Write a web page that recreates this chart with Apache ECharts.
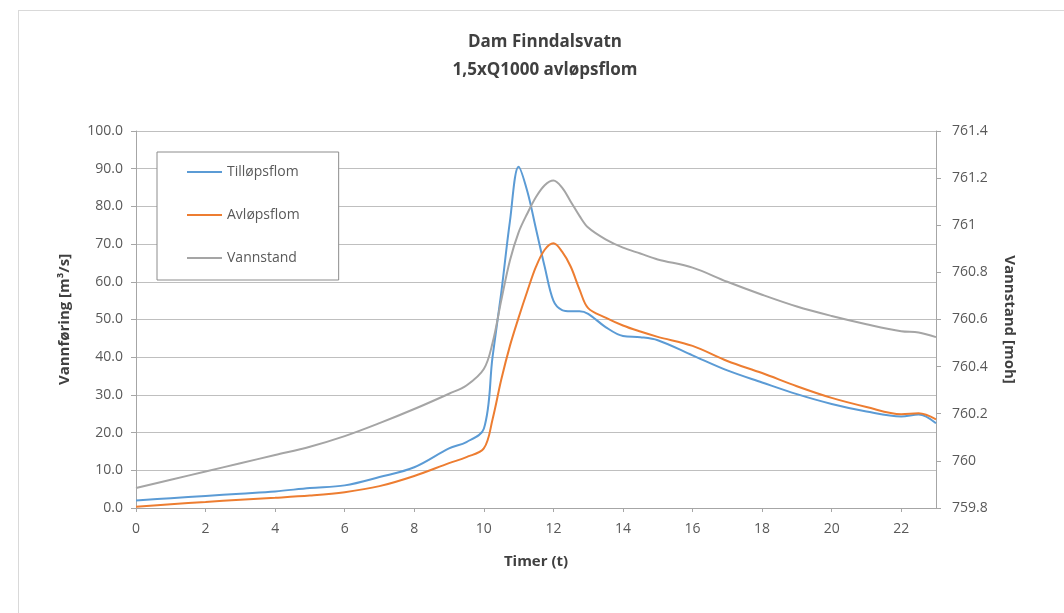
<!DOCTYPE html>
<html>
<head>
<meta charset="utf-8">
<script src="https://cdn.jsdelivr.net/npm/echarts@6/dist/echarts.min.js"></script>
<style>
  html, body { margin: 0; padding: 0; background: #fff; }
  .frame {
    position: absolute; left: 18px; top: 10px; width: 1060px; height: 620px;
    border: 1px solid #d9d9d9; box-sizing: border-box;
  }
  #chart { position: absolute; left: 0; top: 0; width: 1064px; height: 613px; }
</style>
</head>
<body>
<div class="frame"></div>
<div id="chart"></div>
<script>
  // timer (t)
  const hours = [0, 1, 2, 3, 4, 5, 6, 7, 8, 9, 9.5, 10, 10.25, 10.5, 10.75, 11, 11.25, 11.5, 11.75,
    12, 12.25, 12.5, 12.75, 13, 13.5, 14, 14.5, 15, 16, 17, 18, 19, 20, 21, 22, 22.5, 23];

  // Tilløpsflom (m3/s)
  const tilop = [2.0, 2.6, 3.2, 3.8, 4.4, 5.3, 6.0, 8.2, 10.8, 15.8, 17.5, 21, 40, 57, 76, 90.5, 84, 74, 64,
    55, 52.5, 52.2, 52.2, 51.5, 48, 45.6, 45.3, 44.5, 40.5, 36.5, 33.3, 30.2, 27.6, 25.6, 24.3, 24.8, 22.5];

  // Avløpsflom (m3/s)
  const avlop = [0.3, 1.0, 1.6, 2.2, 2.7, 3.3, 4.2, 5.8, 8.5, 11.9, 13.5, 15.8, 23.5, 34, 43, 50.5, 57.5, 64, 68.5,
    70.2, 68, 64, 58, 53, 50.5, 48.4, 46.8, 45.4, 43, 39, 35.8, 32.3, 29.2, 26.8, 24.9, 25.1, 23.5];

  // Vannstand (moh)
  const vannstand = [759.885, 759.92, 759.955, 759.99, 760.025, 760.06, 760.105, 760.16, 760.22, 760.285, 760.32,
    760.39, 760.5, 760.68, 760.85, 760.97, 761.05, 761.12, 761.17, 761.19, 761.16, 761.1, 761.04, 760.99,
    760.94, 760.905, 760.88, 760.855, 760.82, 760.76, 760.705, 760.655, 760.615, 760.58, 760.55, 760.545, 760.525];

  const pairs = (ys) => hours.map((h, i) => [h, ys[i]]);

  const font = '"Open Sans", sans-serif';
  const labelColor = '#595959';
  const nameStyle = {fontSize: 15, fontWeight: 'bold', color: '#404040', fontFamily: font};

  let myChart = echarts.init(document.getElementById('chart'));
  myChart.setOption({
    animation: false,
    textStyle: {fontFamily: font},
    title: {
      text: 'Dam Finndalsvatn\n1,5xQ1000 avløpsflom',
      left: 540,
      textAlign: 'center',
      top: 23,
      textStyle: {fontSize: 17, fontWeight: 'bold', color: '#404040', lineHeight: 28, fontFamily: font}
    },
    grid: {left: 136, right: 128, top: 131, bottom: 105},
    legend: {
      orient: 'vertical',
      left: 157,
      top: 152,
      icon: 'rect',
      itemWidth: 35,
      itemHeight: 2,
      itemGap: 27,
      padding: [12, 39, 14, 30],
      backgroundColor: '#fff',
      borderColor: '#8c8c8c',
      borderWidth: 1,
      textStyle: {fontSize: 14, lineHeight: 16, color: labelColor, fontFamily: font},
      data: ['Tilløpsflom', 'Avløpsflom', 'Vannstand']
    },
    xAxis: {
      type: 'value',
      min: 0,
      max: 23,
      interval: 2,
      name: 'Timer (t)',
      nameLocation: 'middle',
      nameGap: 46,
      nameTextStyle: nameStyle,
      axisLine: {lineStyle: {color: '#a6a6a6'}},
      axisTick: {show: true, length: 4, lineStyle: {color: '#a6a6a6'}},
      axisLabel: {fontSize: 14, color: labelColor, margin: 14, showMaxLabel: false},
      splitLine: {show: false}
    },
    yAxis: [
      {
        type: 'value',
        min: 0,
        max: 100,
        interval: 10,
        name: 'Vannføring [m³/s]',
        nameLocation: 'middle',
        nameGap: 64,
        nameTextStyle: nameStyle,
        axisLine: {show: true, lineStyle: {color: '#a6a6a6'}},
        axisTick: {show: true, length: 5, lineStyle: {color: '#a6a6a6'}},
        axisLabel: {fontSize: 14, color: labelColor, margin: 13, formatter: v => v.toFixed(1)},
        splitLine: {show: true, lineStyle: {color: '#bfbfbf'}}
      },
      {
        type: 'value',
        min: 759.8,
        max: 761.4,
        interval: 0.2,
        name: 'Vannstand [moh]',
        nameLocation: 'middle',
        nameGap: 66,
        nameRotate: -90,
        nameTextStyle: nameStyle,
        axisLine: {show: true, lineStyle: {color: '#a6a6a6'}},
        axisTick: {show: true, length: 5, lineStyle: {color: '#a6a6a6'}},
        axisLabel: {fontSize: 14, color: labelColor, margin: 16},
        splitLine: {show: false}
      }
    ],
    series: [
      {
        name: 'Tilløpsflom',
        type: 'line',
        yAxisIndex: 0,
        data: pairs(tilop),
        symbol: 'none',
        smooth: 0.35,
        lineStyle: {color: '#5b9bd5', width: 2},
        itemStyle: {color: '#5b9bd5'}
      },
      {
        name: 'Avløpsflom',
        type: 'line',
        yAxisIndex: 0,
        data: pairs(avlop),
        symbol: 'none',
        smooth: 0.35,
        lineStyle: {color: '#ed7d31', width: 2},
        itemStyle: {color: '#ed7d31'}
      },
      {
        name: 'Vannstand',
        type: 'line',
        yAxisIndex: 1,
        data: pairs(vannstand),
        symbol: 'none',
        smooth: 0.35,
        lineStyle: {color: '#a5a5a5', width: 2},
        itemStyle: {color: '#a5a5a5'}
      }
    ]
  });
</script>
</body>
</html>
